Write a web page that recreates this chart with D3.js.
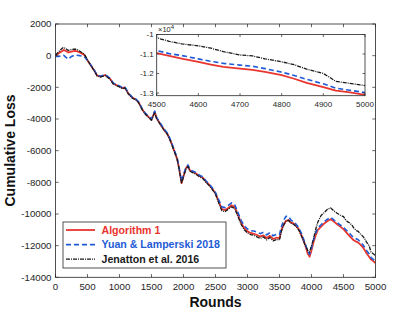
<!DOCTYPE html>
<html><head><meta charset="utf-8">
<script src="https://cdn.jsdelivr.net/npm/d3@7"></script>
<style>body{margin:0;background:#fff}svg{display:block}text{font-family:"Liberation Sans",Arial,sans-serif}</style>
</head><body><svg id="c" width="415" height="312"></svg>
<script>
const rounds = [0,50,100,125,150,200,250,300,330,380,450,500,550,600,650,700,775,850,900,950,1000,1050,1080,1100,1140,1200,1250,1300,1350,1400,1450,1500,1550,1580,1620,1650,1700,1750,1800,1850,1900,1930,1970,2000,2040,2070,2100,2150,2200,2250,2300,2350,2400,2450,2500,2550,2600,2650,2700,2750,2800,2850,2900,2950,3000,3050,3100,3150,3200,3250,3300,3350,3400,3450,3500,3530,3560,3600,3640,3680,3720,3760,3800,3850,3900,3940,3970,4000,4030,4070,4100,4150,4200,4250,4300,4350,4400,4450,4500,4530,4560,4600,4630,4660,4700,4730,4760,4800,4830,4860,4900,4930,4960,5000];
const algorithm1 = [0,150,280,360,320,200,250,300,290,200,50,-300,-600,-900,-1250,-1330,-1220,-1450,-1750,-1850,-1950,-2060,-2000,-2120,-2400,-2650,-2750,-2950,-3350,-3650,-3850,-4050,-3550,-3950,-4200,-4400,-4700,-4950,-5400,-5950,-6500,-7100,-8050,-7600,-7100,-6950,-7250,-7350,-7450,-7600,-7700,-7950,-8150,-8400,-8700,-9200,-9700,-9750,-9620,-9450,-9550,-10050,-10550,-10900,-11100,-11200,-11250,-11330,-11420,-11350,-11520,-11380,-11580,-11500,-11520,-11000,-10700,-10450,-10380,-10550,-10600,-10750,-10950,-11400,-11950,-12500,-12700,-12300,-11800,-11300,-11000,-10800,-10600,-10450,-10330,-10480,-10650,-10800,-10960,-11100,-11240,-11410,-11540,-11660,-11750,-11810,-11920,-12090,-12270,-12480,-12700,-12880,-12960,-13100];
const yuanLamperski = [-50,-50,0,30,-60,-220,-50,40,30,0,-50,-300,-580,-880,-1220,-1300,-1190,-1420,-1720,-1820,-1920,-2030,-1960,-2090,-2370,-2620,-2720,-2920,-3320,-3620,-3820,-4000,-3500,-3900,-4150,-4350,-4650,-4900,-5350,-5900,-6450,-7050,-7950,-7500,-7050,-6900,-7200,-7300,-7400,-7550,-7650,-7900,-8100,-8350,-8650,-9100,-9550,-9600,-9450,-9300,-9400,-9900,-10400,-10750,-10950,-11050,-11080,-11150,-11240,-11150,-11320,-11180,-11380,-11300,-11300,-10800,-10450,-10150,-10150,-10400,-10480,-10650,-10850,-11300,-11850,-12350,-12550,-12150,-11650,-11150,-10880,-10680,-10480,-10330,-10220,-10380,-10550,-10700,-10820,-10980,-11080,-11250,-11380,-11480,-11570,-11630,-11750,-11930,-12100,-12300,-12530,-12750,-12850,-12980];
const jenatton = [30,250,450,520,470,330,380,420,400,280,100,-270,-600,-920,-1280,-1360,-1250,-1480,-1780,-1880,-1980,-2090,-2030,-2150,-2430,-2680,-2780,-2980,-3380,-3680,-3880,-4080,-3580,-3980,-4230,-4430,-4730,-4980,-5430,-5980,-6530,-7130,-8080,-7650,-7150,-7000,-7300,-7400,-7500,-7650,-7750,-8000,-8200,-8450,-8750,-9300,-9800,-9850,-9700,-9550,-9650,-10150,-10650,-11000,-11200,-11300,-11350,-11450,-11540,-11450,-11640,-11480,-11700,-11620,-11620,-11100,-10750,-10450,-10400,-10580,-10650,-10800,-11000,-11450,-11950,-12300,-12400,-12000,-11600,-10900,-10500,-10100,-9900,-9700,-9620,-9800,-9950,-10080,-10170,-10350,-10480,-10580,-10700,-10880,-11050,-11100,-11250,-11400,-11550,-11780,-12000,-12400,-12500,-12620];
const xTicks = [0,500,1000,1500,2000,2500,3000,3500,4000,4500,5000];
const yTicks = [2000,0,-2000,-4000,-6000,-8000,-10000,-12000,-14000];
const insetXTicks = [4500,4600,4700,4800,4900,5000];
const insetYTicks = [-10000,-11000,-12000,-13000];
const insetYLabels = ["-1","-1.1","-1.2","-1.3"];
const seriesNames = ["Algorithm 1","Yuan & Lamperski 2018","Jenatton et al. 2016"];

const colors = ["#e8352e","#1e5bd6","#1a1a1a"];
const dashes = [null,"5,3","4,1,1,1"];
const widths = [1.8,1.6,1.3];
const axisColor = "#262626";
const svg = d3.select("#c");
const data = [algorithm1, yuanLamperski, jenatton];

const x = d3.scaleLinear().domain([0,5000]).range([55.5,375.5]);
const y = d3.scaleLinear().domain([-14000,2000]).range([277.3,24]);

function frame(g, xs, ys, xt, yt, ylab, fs, tl, labelX) {
  const [x0,x1] = xs.range(), [y0,y1] = ys.range();
  g.append("rect").attr("x",x0).attr("y",y1).attr("width",x1-x0).attr("height",y0-y1)
    .attr("fill","none").attr("stroke",axisColor).attr("stroke-width",0.8);
  xt.forEach(t=>{
    const px = xs(t);
    g.append("line").attr("x1",px).attr("x2",px).attr("y1",y0).attr("y2",y0-tl).attr("stroke",axisColor).attr("stroke-width",0.7);
    g.append("line").attr("x1",px).attr("x2",px).attr("y1",y1).attr("y2",y1+tl).attr("stroke",axisColor).attr("stroke-width",0.7);
    g.append("text").attr("x",px).attr("y",y0+fs+3).attr("text-anchor","middle").attr("font-size",fs).attr("fill",axisColor).text(t);
  });
  yt.forEach((t,i)=>{
    const py = ys(t);
    g.append("line").attr("x1",x0).attr("x2",x0+tl).attr("y1",py).attr("y2",py).attr("stroke",axisColor).attr("stroke-width",0.7);
    g.append("line").attr("x1",x1).attr("x2",x1-tl).attr("y1",py).attr("y2",py).attr("stroke",axisColor).attr("stroke-width",0.7);
    g.append("text").attr("x",x0-labelX).attr("y",py+fs*0.35).attr("text-anchor","end").attr("font-size",fs).attr("fill",axisColor).text(ylab?ylab[i]:t);
  });
}

function drawLines(g, xs, ys, clipId) {
  const [x0,x1] = xs.range(), [y0,y1] = ys.range();
  svg.append("defs").append("clipPath").attr("id",clipId).append("rect")
    .attr("x",x0).attr("y",y1).attr("width",x1-x0).attr("height",y0-y1);
  const gl = g.append("g").attr("clip-path",`url(#${clipId})`);
  data.forEach((vals,k)=>{
    const line = d3.line().x((d,i)=>xs(rounds[i])).y(d=>ys(d));
    gl.append("path").attr("d",line(vals)).attr("fill","none").attr("stroke",colors[k])
      .attr("stroke-width",widths[k]).attr("stroke-dasharray",dashes[k]).attr("stroke-linejoin","round");
  });
}

const main = svg.append("g");
drawLines(main, x, y, "clipMain");
frame(main, x, y, xTicks, yTicks, null, 9.7, 3.2, 4);

// axis labels
svg.append("text").attr("x",215.5).attr("y",306.5).attr("text-anchor","middle").attr("font-size",14).attr("font-weight","bold").attr("fill","#111").text("Rounds");
svg.append("text").attr("transform","translate(15,150.5) rotate(-90)").attr("text-anchor","middle").attr("font-size",14).attr("font-weight","bold").attr("fill","#111").text("Cumulative Loss");

// legend
const lg = svg.append("g");
lg.append("rect").attr("x",63).attr("y",222).attr("width",163).attr("height",46).attr("fill","#fff").attr("stroke",axisColor).attr("stroke-width",0.8);
seriesNames.forEach((n,k)=>{
  const ly = 230 + k*14.6;
  lg.append("line").attr("x1",66).attr("x2",95).attr("y1",ly).attr("y2",ly).attr("stroke",colors[k]).attr("stroke-width",widths[k]).attr("stroke-dasharray",dashes[k]);
  lg.append("text").attr("x",101.5).attr("y",ly+3.8).attr("font-size",10.6).attr("font-weight","bold").attr("fill",colors[k]).text(n);
});

// inset
const xi = d3.scaleLinear().domain([4500,5000]).range([156.7,365]);
const yi = d3.scaleLinear().domain([-13140,-10000]).range([95.7,34.5]);
const ins = svg.append("g");
ins.append("rect").attr("x",156.7).attr("y",34.5).attr("width",365-156.7).attr("height",95.7-34.5).attr("fill","#fff");
drawLines(ins, xi, yi, "clipInset");
frame(ins, xi, yi, insetXTicks, insetYTicks, insetYLabels, 8, 2.5, 3);
const ex = ins.append("text").attr("x",158).attr("y",32).attr("font-size",7.5).attr("fill",axisColor);
ex.append("tspan").text("\u00d710");
ex.append("tspan").attr("dy",-3.5).attr("font-size",6).text("4");
</script></body></html>
